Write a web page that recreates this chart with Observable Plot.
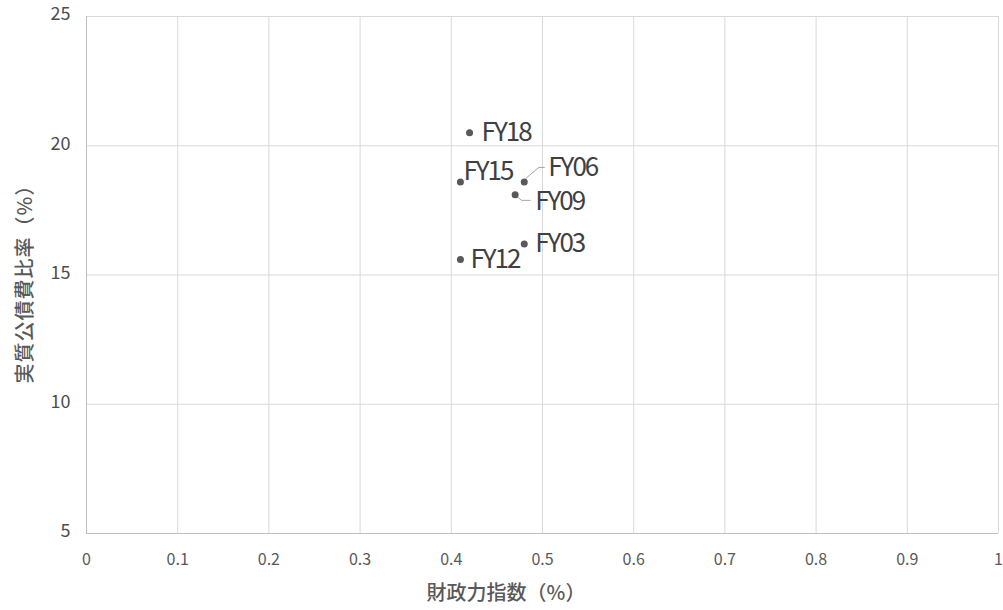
<!DOCTYPE html>
<html>
<head>
<meta charset="utf-8">
<script src="https://cdn.jsdelivr.net/npm/d3@7"></script>
<script src="https://cdn.jsdelivr.net/npm/@observablehq/plot@0.6"></script>
<style>
  html, body { margin: 0; padding: 0; background: #fff; }
  #chart svg { display: block; }
</style>
</head>
<body>
<div id="chart"></div>
<script>
// Fiscal years, fiscal strength index and real debt service ratio
const years = ["FY03", "FY06", "FY09", "FY12", "FY15", "FY18"];
const fiscalIndex = [0.48, 0.48, 0.47, 0.41, 0.41, 0.42];
const debtRatio = [16.2, 18.6, 18.1, 15.6, 18.6, 20.5];

const xTicks = [0, 0.1, 0.2, 0.3, 0.4, 0.5, 0.6, 0.7, 0.8, 0.9, 1];
const yTicks = [5, 10, 15, 20, 25];

const xTitle = "財政力指数（%）";
const yTitle = "実質公債費比率（%）";

const rows = years.map((fy, i) => ({fy, x: fiscalIndex[i], y: debtRatio[i]}));

// label placement: pixel offset of the label's left edge / vertical centre from its point
const labelOffset = {
  FY03: [11, 0], FY06: [24, -14], FY09: [20, 7],
  FY12: [10, 0], FY15: [3, -10], FY18: [12, 0]
};
// leader lines (pixel offsets from the point)
const leaders = {
  FY06: [[2, -3], [15, -14], [21, -14]],
  FY09: [[2, 2], [7, 6], [16, 6]]
};

const font = "'Noto Sans CJK JP', 'Noto Sans', sans-serif";
const labelSize = 26;

const leaderMark = (index, scales) => {
  const g = d3.create("svg:g");
  for (const r of rows) {
    const pts = leaders[r.fy];
    if (!pts) continue;
    const px = scales.x(r.x), py = scales.y(r.y);
    g.append("polyline")
      .attr("points", pts.map(([dx, dy]) => `${px + dx},${py + dy}`).join(" "))
      .attr("fill", "none")
      .attr("stroke", "#a6a6a6")
      .attr("stroke-width", 1);
  }
  return g.node();
};

const chart = Plot.plot({
  width: 1003,
  height: 610,
  marginLeft: 86,
  marginRight: 5,
  marginTop: 16,
  marginBottom: 77,
  style: {fontFamily: font, background: "#fff"},
  x: {domain: [0, 1]},
  y: {domain: [5, 25]},
  marks: [
    Plot.ruleX(xTicks, {stroke: "#d9d9d9", strokeWidth: 1}),
    Plot.ruleY(yTicks, {stroke: "#d9d9d9", strokeWidth: 1}),
    Plot.ruleX([0], {stroke: "#bfbfbf", strokeWidth: 1}),
    Plot.ruleY([5], {stroke: "#bfbfbf", strokeWidth: 1}),
    Plot.axisX({
      ticks: xTicks, tickSize: 0, tickPadding: 20, fontSize: 16,
      color: "#595959", tickFormat: d => String(d), label: null
    }),
    Plot.axisY({
      ticks: yTicks, tickSize: 0, tickPadding: 16, fontSize: 18,
      color: "#4d4d4d", dy: -2, label: null
    }),
    leaderMark,
    Plot.dot(rows, {x: "x", y: "y", r: 3.5, fill: "#595959", stroke: "none"}),
    Plot.text(rows, {
      x: "x", y: "y", text: "fy", textAnchor: "start",
      fontSize: labelSize, fill: "#404040"
    })
  ]
});

// per-label pixel offsets
const svg = d3.select(chart);
svg.selectAll("text").each(function () {
  const t = this.textContent;
  if (labelOffset[t]) {
    const [dx, dy] = labelOffset[t];
    d3.select(this)
      .attr("dx", dx)
      .attr("dy", dy)
      .attr("letter-spacing", "-2px");
  }
});

// axis titles
svg.append("text")
  .attr("x", 506).attr("y", 600)
  .attr("text-anchor", "middle")
  .attr("font-family", font).attr("font-size", 20).attr("font-weight", 500)
  .attr("fill", "#595959")
  .text(xTitle);
svg.append("text")
  .attr("transform", "translate(32,279) rotate(-90)")
  .attr("text-anchor", "middle")
  .attr("font-family", font).attr("font-size", 20).attr("font-weight", 500)
  .attr("letter-spacing", "1px")
  .attr("fill", "#595959")
  .text(yTitle);

document.getElementById("chart").appendChild(chart);
</script>
</body>
</html>
